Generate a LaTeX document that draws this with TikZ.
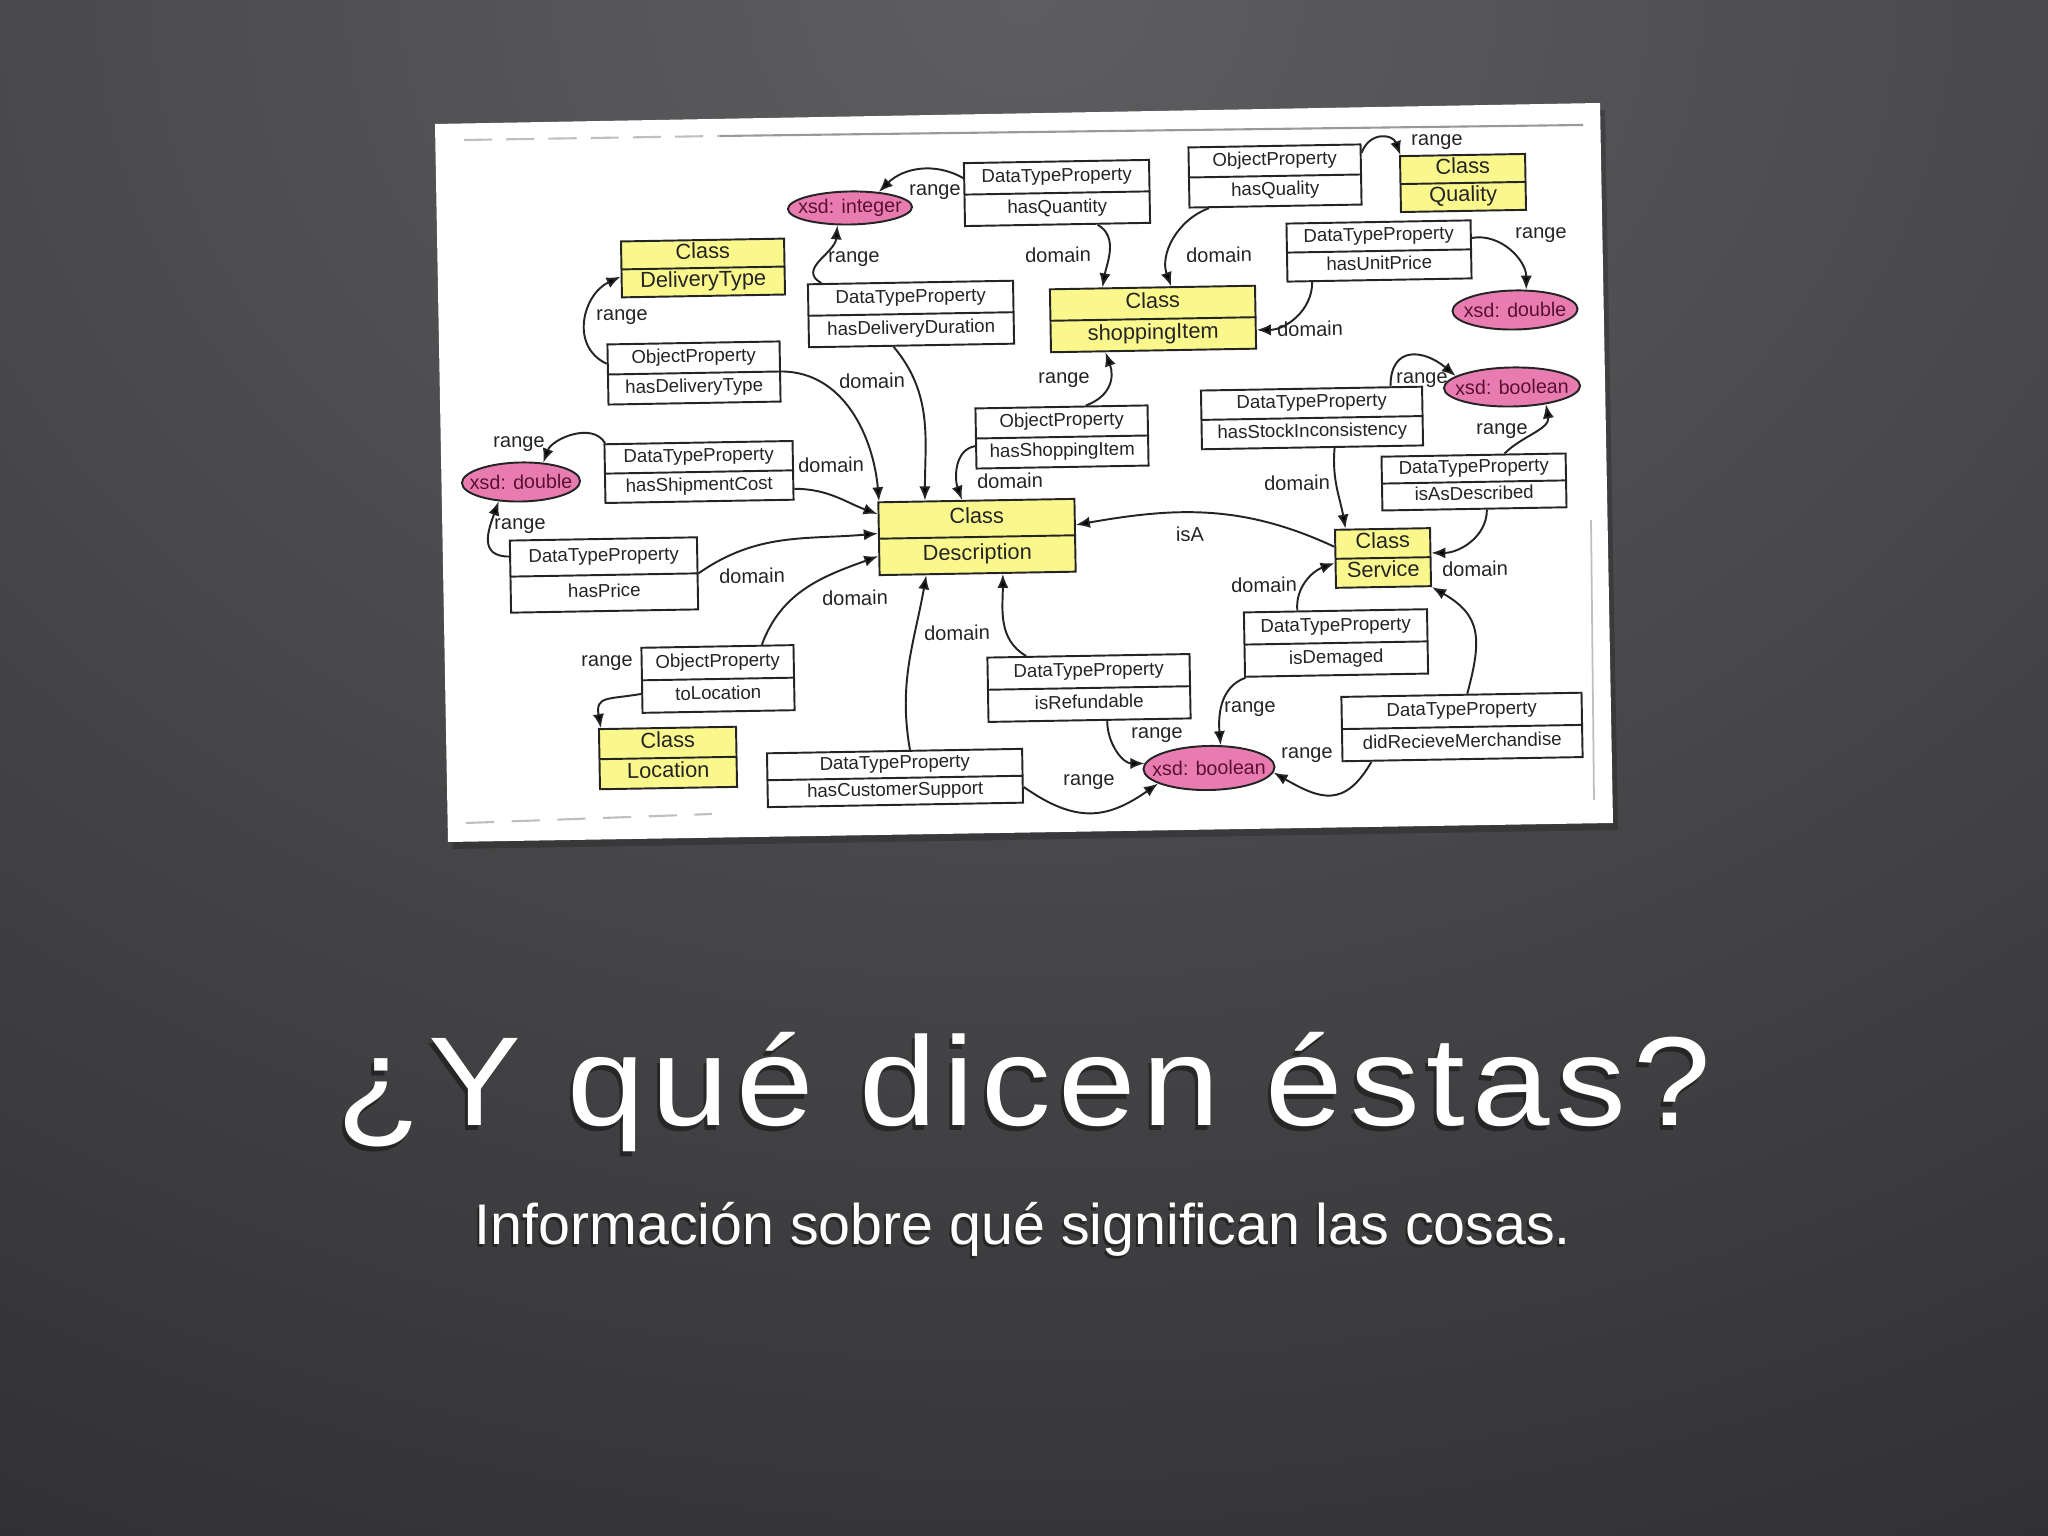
\documentclass[tikz,border=0pt]{standalone}
\usepackage{fontspec}
\setmainfont{Liberation Sans}
\usepackage{xcolor}
\usepackage{tikz}
\usetikzlibrary{arrows.meta,shapes.geometric,shapes.multipart}

\definecolor{slidetop}{RGB}{94,94,96}
\definecolor{slidebase}{RGB}{42,42,44}
\definecolor{classfill}{RGB}{250,248,140}
\definecolor{xsdfill}{RGB}{232,124,176}
\definecolor{xsdtext}{RGB}{90,16,50}
\definecolor{inkgray}{RGB}{36,36,36}

\newcommand{\twolines}[2]{\strut #1\nodepart{two}\strut #2}
\newcommand{\xsdname}[1]{\makebox[0pt]{xsd: #1}}

\begin{document}
\begin{tikzpicture}[x=0.01cm,y=0.01cm,
  prop/.style={rectangle split, rectangle split parts=2, draw=inkgray, line width=0.55pt, fill=white, text=inkgray,
    font=\fontsize{5.3}{6}\selectfont, align=center, inner xsep=0pt, inner ysep=1.2pt, rotate=1},
  cls/.style={prop, fill=classfill, font=\fontsize{6.2}{6.6}\selectfont, inner ysep=0.5pt},
  xsd/.style={ellipse, draw=inkgray, line width=0.55pt, fill=xsdfill, text=xsdtext,
    font=\fontsize{5.6}{6}\selectfont, inner sep=0pt, rotate=1},
  lbl/.style={text=inkgray, font=\fontsize{5.7}{6}\selectfont, inner sep=0pt, rotate=1},
  rel/.style={draw=inkgray, line width=0.55pt, -{Latex[length=4pt,width=3.2pt]}},
  heading/.style={anchor=base, xscale=1.1, font=\fontsize{36}{40}\selectfont\addfontfeature{LetterSpace=5}},
  subheading/.style={anchor=base, font=\fontsize{16.3}{20}\selectfont}
]
\useasboundingbox (0,0) rectangle (2048,1536);

% Background
\fill[slidebase] (0,0) rectangle (2048,1536);
\begin{scope}
  \clip (0,0) rectangle (2048,1536);
  \shade[inner color=slidetop, outer color=slidebase] (1024,1536) ellipse (2600 and 2000);
\end{scope}

% Card
\fill[black, fill opacity=0.2] (440,1405) -- (1605,1426) -- (1618,706) -- (453,687) -- cycle;
\fill[white] (435,1412) -- (1600,1433) -- (1613,713) -- (448,694) -- cycle;
\draw[gray!50, line width=0.6pt, dash pattern=on 8pt off 4pt] (464,1396) -- (720,1400);
\draw[gray!80, line width=0.6pt] (720,1400) -- (1583,1411);
\draw[gray!50, line width=0.5pt] (1591,1016) -- (1594,736);
\draw[gray!50, line width=0.6pt, dash pattern=on 8pt off 5pt] (466,713) -- (712,722);

% Classes
\node[cls, text width=1.63cm, inner ysep=0.4pt] (deliveryType) at (703,1268) {\twolines{Class}{DeliveryType}};
\node[cls, text width=1.25cm, inner ysep=0.4pt] (quality) at (1463,1353) {\twolines{Class}{Quality}};
\node[cls, text width=2.05cm, inner ysep=0.9pt] (shoppingItem) at (1153,1217) {\twolines{Class}{shoppingItem}};
\node[cls, text width=1.96cm, inner ysep=1.6pt] (description) at (977,999) {\twolines{Class}{Description}};
\node[cls, text width=0.95cm, inner ysep=0.55pt] (service) at (1383,978) {\twolines{Class}{Service}};
\node[cls, text width=1.37cm, inner ysep=0.7pt] (location) at (668,778) {\twolines{Class}{Location}};

% Properties
\node[prop, text width=1.85cm] (hasQuantity) at (1057,1343) {\twolines{DataTypeProperty}{hasQuantity}};
\node[prop, text width=1.72cm, inner ysep=1pt] (hasQuality) at (1275,1360) {\twolines{ObjectProperty}{hasQuality}};
\node[prop, text width=1.84cm, inner ysep=0.85pt] (hasUnitPrice) at (1379,1285) {\twolines{DataTypeProperty}{hasUnitPrice}};
\node[prop, text width=2.05cm] (hasDeliveryDuration) at (911,1222) {\twolines{DataTypeProperty}{hasDeliveryDuration}};
\node[prop, text width=1.72cm, inner ysep=1pt] (hasDeliveryType) at (694,1163) {\twolines{ObjectProperty}{hasDeliveryType}};
\node[prop, text width=1.72cm, inner ysep=1pt] (hasShoppingItem) at (1062,1099) {\twolines{ObjectProperty}{hasShoppingItem}};
\node[prop, text width=2.21cm, inner ysep=0.9pt] (hasStockInc) at (1312,1118) {\twolines{DataTypeProperty}{hasStockInconsistency}};
\node[prop, text width=1.84cm, inner ysep=0.55pt] (isAsDescribed) at (1474,1054) {\twolines{DataTypeProperty}{isAsDescribed}};
\node[prop, text width=1.88cm, inner ysep=0.9pt] (hasShipmentCost) at (699,1064) {\twolines{DataTypeProperty}{hasShipmentCost}};
\node[prop, text width=1.87cm, inner ysep=1.85pt] (hasPrice) at (604,961) {\twolines{DataTypeProperty}{hasPrice}};
\node[prop, text width=1.83cm, inner ysep=1.3pt] (isDemaged) at (1336,893) {\twolines{DataTypeProperty}{isDemaged}};
\node[prop, text width=1.52cm, inner ysep=1.35pt] (toLocation) at (718,857) {\twolines{ObjectProperty}{toLocation}};
\node[prop, text width=2.02cm, inner ysep=1.3pt] (isRefundable) at (1089,848) {\twolines{DataTypeProperty}{isRefundable}};
\node[prop, text width=2.40cm, inner ysep=1.3pt] (didRecieve) at (1462,809) {\twolines{DataTypeProperty}{didRecieveMerchandise}};
\node[prop, text width=2.55cm, inner ysep=0.55pt] (hasCustomerSupport) at (895,758) {\twolines{DataTypeProperty}{hasCustomerSupport}};

% Data types
\node[xsd, minimum width=1.24cm, minimum height=0.33cm] (xsdInteger) at (850,1328) {\xsdname{integer}};
\node[xsd, minimum width=1.25cm, minimum height=0.39cm] (xsdDoubleR) at (1515,1226) {\xsdname{double}};
\node[xsd, minimum width=1.36cm, minimum height=0.39cm] (xsdBoolTop) at (1512,1149) {\xsdname{boolean}};
\node[xsd, minimum width=1.18cm, minimum height=0.39cm] (xsdDoubleL) at (521,1054) {\xsdname{double}};
\node[xsd, minimum width=1.31cm, minimum height=0.44cm] (xsdBoolBot) at (1209,768) {\xsdname{boolean}};

% Relations
\draw[rel] (hasQuantity.170) to[out=150,in=45] (xsdInteger.28);
\draw[rel] (hasDeliveryDuration.160) to[out=150,in=-95,looseness=1.2] (xsdInteger.233);
\draw[rel] (hasDeliveryType.173) to[out=155,in=205,looseness=1.2] (deliveryType.185);
\draw[rel] (hasQuantity.321) to[out=-30,in=80] (shoppingItem.147);
\draw[rel] (hasQuality.205) to[out=200,in=110] (shoppingItem.60);
\draw[rel] (hasQuality.14) to[out=70,in=110,looseness=1.5] (quality.155);
\draw[rel] (hasUnitPrice.7) to[out=10,in=90] (xsdDoubleR.60);
\draw[rel] (hasUnitPrice.204) to[out=-90,in=0] (shoppingItem.-7);
\draw[rel] (hasShoppingItem.52) to[out=20,in=-70,looseness=1.2] (shoppingItem.214);
\draw[rel] (hasDeliveryType.east) to[out=0,in=95] (description.159);
\draw[rel] (hasDeliveryDuration.241) to[out=-50,in=90] (description.144);
\draw[rel] (hasShoppingItem.185) to[out=190,in=110] (description.111);
\draw[rel] (hasShipmentCost.-11) to[out=0,in=160] (description.166);
\draw[rel] (hasShipmentCost.162) to[out=120,in=70] (xsdDoubleL.40);
\draw[rel] (hasPrice.168) to[out=180,in=250,looseness=1.4] (xsdDoubleL.220);
\draw[rel] (hasPrice.east) to[out=35,in=185] (description.177);
\draw[rel] (toLocation.37) to[out=70,in=200] (description.190);
\draw[rel] (toLocation.190) to[out=190,in=100,looseness=1.6] (location.155);
\draw[rel] (hasCustomerSupport.61) to[out=100,in=-100] (description.216);
\draw[rel] (isRefundable.152) to[out=150,in=-90] (description.304);
\draw[rel] (service.166) to[out=155,in=10] (description.6);
\draw[rel] (hasStockInc.306) to[out=-95,in=100] (service.141);
\draw[rel] (hasStockInc.21) to[out=90,in=140,looseness=1.6] (xsdBoolTop.168);
\draw[rel] (isAsDescribed.42) to[out=45,in=-80] (xsdBoolTop.332);
\draw[rel] (isAsDescribed.294) to[out=-90,in=0] (service.5);
\draw[rel] (isDemaged.139) to[out=95,in=200] (service.185);
\draw[rel] (didRecieve.80) to[out=75,in=-30,looseness=1.3] (service.south east);
\draw[rel] (isDemaged.200) to[out=200,in=95] (xsdBoolBot.62);
\draw[rel] (isRefundable.298) to[out=-90,in=180] (xsdBoolBot.175);
\draw[rel] (hasCustomerSupport.-5) to[out=-35,in=215,looseness=1.2] (xsdBoolBot.196);
\draw[rel] (didRecieve.200) to[out=-120,in=-30,looseness=1.4] (xsdBoolBot.355);

% Labels
\node[lbl] (r1) at (935,1344) {range};
\node[lbl] (r2) at (854,1277) {range};
\node[lbl] (r3) at (622,1219) {range};
\node[lbl] (r6) at (1437,1394) {range};
\node[lbl] (r7) at (1541,1301) {range};
\node[lbl] (r9) at (1064,1156) {range};
\node[lbl] (r14) at (519,1092) {range};
\node[lbl] (r15) at (520,1010) {range};
\node[lbl] (r18) at (607,873) {range};
\node[lbl] (r23) at (1422,1156) {range};
\node[lbl] (r24) at (1502,1105) {range};
\node[lbl] (r28) at (1250,827) {range};
\node[lbl] (r29) at (1157,801) {range};
\node[lbl] (r30) at (1089,754) {range};
\node[lbl] (r31) at (1307,781) {range};
\node[lbl] (d4) at (1058,1281) {domain};
\node[lbl] (d5) at (1219,1281) {domain};
\node[lbl] (d8) at (1310,1207) {domain};
\node[lbl] (d10) at (872,1155) {domain};
\node[lbl] (d12) at (1010,1055) {domain};
\node[lbl] (d13) at (831,1071) {domain};
\node[lbl] (d16) at (752,960) {domain};
\node[lbl] (d17) at (855,938) {domain};
\node[lbl] (d20) at (957,903) {domain};
\node[lbl] (d22) at (1297,1053) {domain};
\node[lbl] (d25) at (1475,967) {domain};
\node[lbl] (d26) at (1264,951) {domain};
\node[lbl] (isA) at (1190,1002) {isA};

% Title
\node[heading, text=black, opacity=0.4] (titleshadow) at (1021,405) {¿Y qué dicen éstas?};
\node[heading, text=white] (title) at (1024,410) {¿Y qué dicen éstas?};
\node[subheading, text=black, opacity=0.4] (subtitleshadow) at (1021,288) {Información sobre qué significan las cosas.};
\node[subheading, text=white] (subtitle) at (1023,291) {Información sobre qué significan las cosas.};
\end{tikzpicture}
\end{document}
